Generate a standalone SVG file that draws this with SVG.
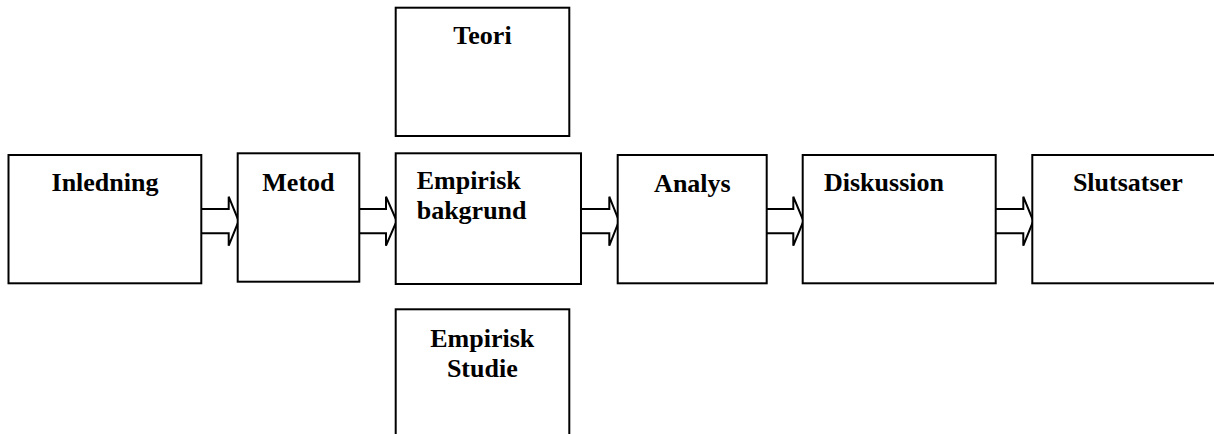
<svg xmlns="http://www.w3.org/2000/svg" width="1214" height="434" viewBox="0 0 1214 434">
<style>
.box{fill:#fff;stroke:#000;stroke-width:2}
.arr{fill:#fff;stroke:#000;stroke-width:2;stroke-linejoin:miter}
.t{font-family:"Liberation Serif","Times New Roman",serif;font-weight:bold;font-size:26px;fill:#000}
.c{text-anchor:middle}
</style>
<rect width="1214" height="434" fill="#fff"/>
<g id="connectors">
<polyline class="arr" points="201,209 228.7,209 228.7,196.7 238.7,221 228.7,245.7 228.7,233.3 201,233.3"/>
<polyline class="arr" points="359.3,209 386,209 386,196.7 396.7,221 386,245.7 386,233.3 359.3,233.3"/>
<polyline class="arr" points="581,209 609.3,209 609.3,196.7 619,221 609.3,245.7 609.3,233.3 581,233.3"/>
<polyline class="arr" points="766.7,209 793.3,209 793.3,196.7 803.5,221 793.3,245.7 793.3,233.3 766.7,233.3"/>
<polyline class="arr" points="995.7,209 1023.3,209 1023.3,196.7 1033.3,221 1023.3,245.7 1023.3,233.3 995.7,233.3"/>
</g>
<g id="teori"><rect class="box" x="395.7" y="7.7" width="173.6" height="128.3"/><text class="t c" x="482.5" y="44">Teori</text></g>
<g id="inledning"><rect class="box" x="8.5" y="155" width="192.8" height="128.3"/><text class="t c" x="105" y="191">Inledning</text></g>
<g id="metod"><rect class="box" x="237.7" y="153.3" width="121.6" height="128.4"/><text class="t c" x="298.4" y="190.7">Metod</text></g>
<g id="empirisk-bakgrund"><rect class="box" x="395.7" y="153.3" width="185.3" height="130.7"/><text class="t" x="416.7" y="189.3">Empirisk</text><text class="t" x="416.7" y="219">bakgrund</text></g>
<g id="analys"><rect class="box" x="617.7" y="155" width="149" height="128.3"/><text class="t c" x="692.4" y="191.5">Analys</text></g>
<g id="diskussion"><rect class="box" x="802.7" y="155" width="193" height="128.3"/><text class="t" x="824" y="191">Diskussion</text></g>
<g id="slutsatser"><rect class="box" x="1032.3" y="155" width="190" height="128.3"/><text class="t c" x="1127.8" y="191">Slutsatser</text></g>
<g id="empirisk-studie"><rect class="box" x="395.7" y="309.3" width="173.6" height="140"/><text class="t c" x="482.3" y="346.5">Empirisk</text><text class="t c" x="482.3" y="377">Studie</text></g>
</svg>
